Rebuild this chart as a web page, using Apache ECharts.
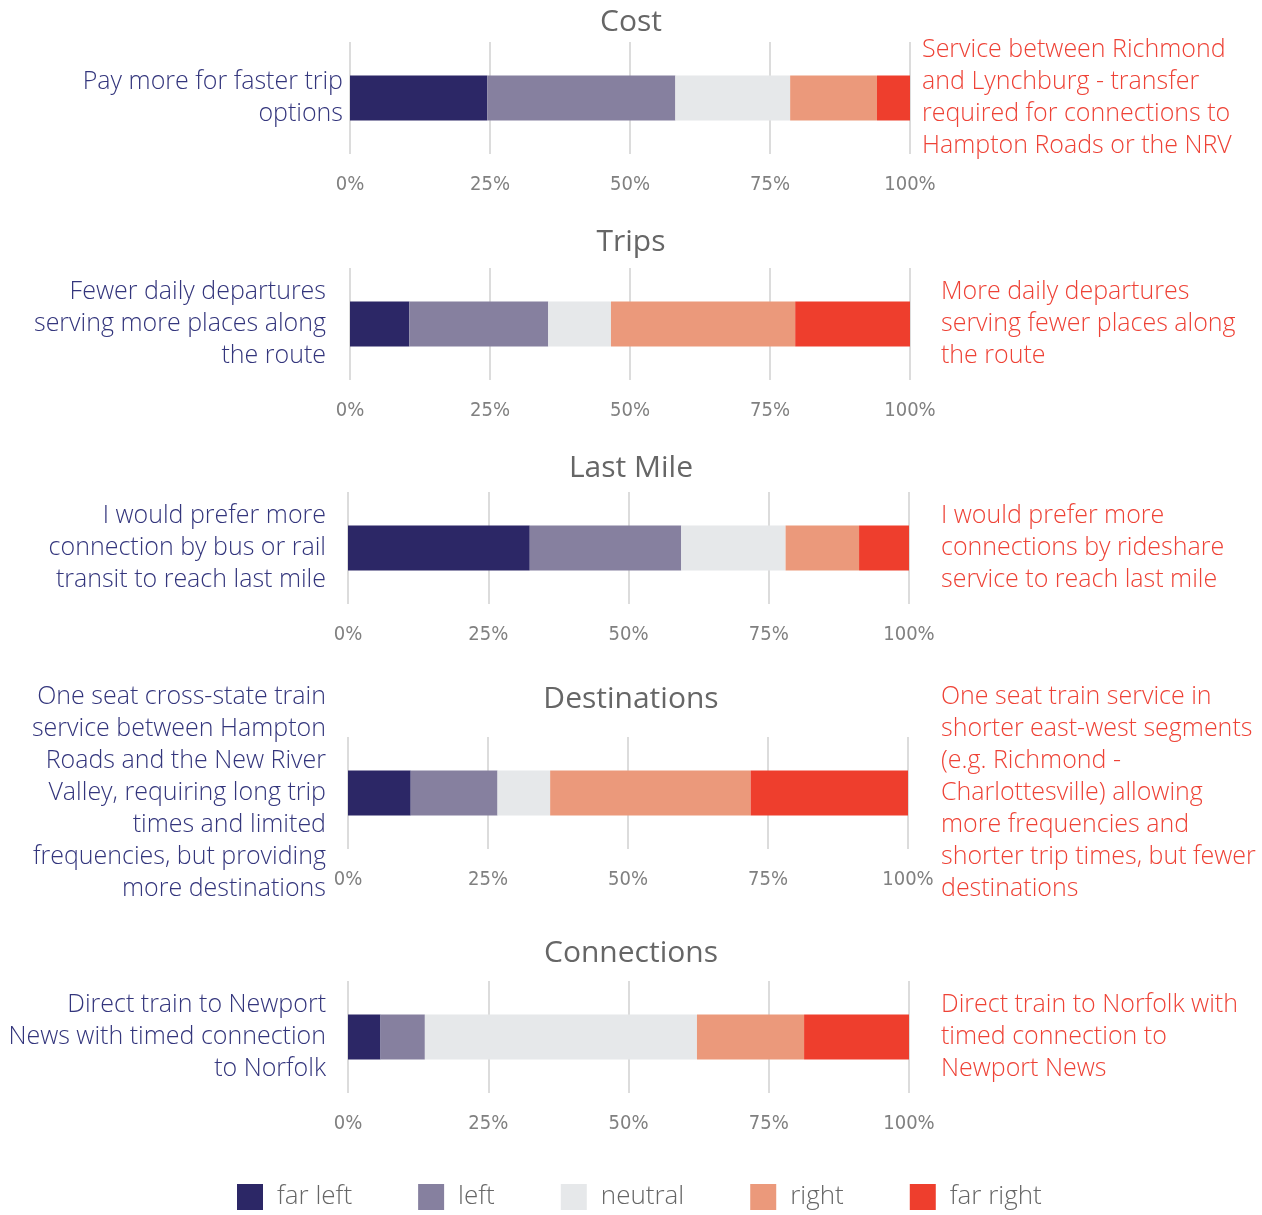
<!DOCTYPE html>
<html>
<head>
<meta charset="utf-8">
<script src="https://cdn.jsdelivr.net/npm/echarts@6/dist/echarts.min.js"></script>
<style>
  html, body { margin: 0; padding: 0; background: #fff; }
  #chart { width: 1262px; height: 1215px; }
</style>
</head>
<body>
<div id="chart"></div>
<script>
// panels, top to bottom
var panelTitles = ['Cost', 'Trips', 'Last Mile', 'Destinations', 'Connections'];

// share of answers (%) in each panel
var farLeft  = [24.5, 10.6, 32.4, 11.2, 5.8];
var left     = [33.6, 24.8, 27.0, 15.5, 7.9];
var neutral  = [20.5, 11.2, 18.6, 9.4, 48.5];
var right    = [15.5, 32.9, 13.1, 35.8, 19.1];
var farRight = [5.9, 20.5, 8.9, 28.1, 18.7];

var leftLabels = [
  'Pay more for faster trip\noptions',
  'Fewer daily departures\nserving more places along\nthe route',
  'I would prefer more\nconnection by bus or rail\ntransit to reach last mile',
  'One seat cross-state train\nservice between Hampton\nRoads and the New River\nValley, requiring long trip\ntimes and limited\nfrequencies, but providing\nmore destinations',
  'Direct train to Newport\nNews with timed connection\nto Norfolk'
];
var rightLabels = [
  'Service between Richmond\nand Lynchburg - transfer\nrequired for connections to\nHampton Roads or the NRV',
  'More daily departures\nserving fewer places along\nthe route',
  'I would prefer more\nconnections by rideshare\nservice to reach last mile',
  'One seat train service in\nshorter east-west segments\n(e.g. Richmond -\nCharlottesville) allowing\nmore frequencies and\nshorter trip times, but fewer\ndestinations',
  'Direct train to Norfolk with\ntimed connection to\nNewport News'
];

var legendNames = ['far left', 'left', 'neutral', 'right', 'far right'];

var colors = ['#2c2766', '#86809f', '#e6e8ea', '#eb997b', '#ee3e2d'];
var textFont = "'Open Sans', 'Noto Sans', sans-serif";
var tickFont = "'Liberation Sans Narrow', 'DejaVu Sans Condensed', sans-serif";

// layout of each panel
var gridTops   = [42, 268, 492, 737, 981];
var gridLefts  = [350, 350, 348, 348, 348];
var gridWidths = [560, 560, 561, 560, 561];
var titleTops  = [17, 237, 463, 694, 948];
var leftMargin = [7, 24, 22, 22, 22];
var rightMargin = [12, 31, 32, 33, 32];

var chart = echarts.init(document.getElementById('chart'));

var seriesValues = [farLeft, left, neutral, right, farRight];
var grid = [], xAxis = [], yAxis = [], title = [], series = [];

for (var i = 0; i < panelTitles.length; i++) {
  grid.push({ left: gridLefts[i], top: gridTops[i], width: gridWidths[i], height: 112 });
  title.push({
    text: panelTitles[i], left: 'center', top: titleTops[i], textVerticalAlign: 'middle',
    textStyle: { fontFamily: textFont, fontWeight: 400, fontSize: 30, color: '#666' }
  });
  xAxis.push({
    type: 'value', gridIndex: i, min: 0, max: 100, interval: 25,
    axisLine: { show: false }, axisTick: { show: false },
    splitLine: { lineStyle: { color: '#dcdcdc', width: 2 } },
    axisLabel: {
      margin: 21, formatter: '{value}%', fontFamily: tickFont, fontSize: 20, color: '#808080'
    }
  });
  yAxis.push({
    type: 'category', gridIndex: i, data: [leftLabels[i]],
    axisLine: { show: false }, axisTick: { show: false },
    axisLabel: {
      margin: leftMargin[i], fontFamily: textFont, fontWeight: 300, fontSize: 25,
      lineHeight: 32, color: '#33357c', align: 'right'
    }
  });
  yAxis.push({
    type: 'category', gridIndex: i, position: 'right', data: [rightLabels[i]],
    axisLine: { show: false }, axisTick: { show: false },
    axisLabel: {
      margin: rightMargin[i], fontFamily: textFont, fontWeight: 300, fontSize: 25,
      lineHeight: 32, color: '#ee4236', align: 'left'
    }
  });
  for (var k = 0; k < legendNames.length; k++) {
    series.push({
      name: legendNames[k], type: 'bar', stack: 'p' + i,
      xAxisIndex: i, yAxisIndex: i * 2, barWidth: 45,
      itemStyle: { color: colors[k] },
      data: [seriesValues[k][i]]
    });
  }
}

chart.setOption({
  animation: false,
  title: title,
  grid: grid,
  xAxis: xAxis,
  yAxis: yAxis,
  legend: {
    data: legendNames, left: 232, top: 1179, itemWidth: 26, itemHeight: 26, itemGap: 66,
    icon: 'rect',
    textStyle: { fontFamily: textFont, fontWeight: 300, fontSize: 26, color: '#666', padding: [0, 0, 0, 9] }
  },
  series: series
});
</script>
</body>
</html>
